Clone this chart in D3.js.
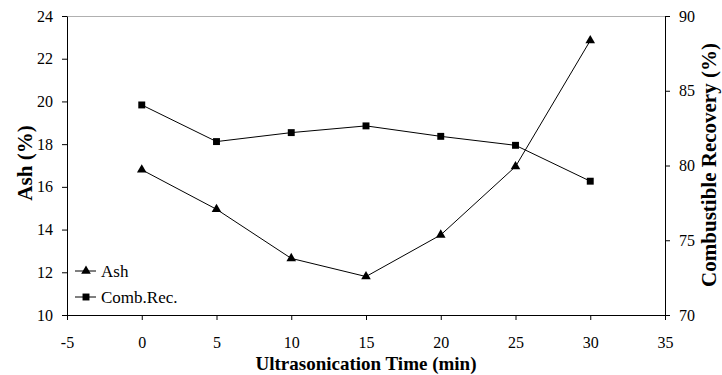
<!DOCTYPE html>
<html>
<head>
<meta charset="utf-8">
<script src="https://cdn.jsdelivr.net/npm/d3@7"></script>
<style>
  body { margin: 0; background: #fff; }
  svg { display: block; font-family: "Liberation Serif", "Times New Roman", serif; }
</style>
</head>
<body>
<svg></svg>
<script>
// chart data
var times = [0, 5, 10, 15, 20, 25, 30];
var ash = [16.8, 14.95, 12.65, 11.8, 13.75, 16.95, 22.85];
var combRec = [84.05, 81.6, 82.2, 82.65, 81.95, 81.35, 78.95];
var xTicks = [-5, 0, 5, 10, 15, 20, 25, 30, 35];
var leftTicks = [10, 12, 14, 16, 18, 20, 22, 24];
var rightTicks = [70, 75, 80, 85, 90];

var svgWidth = 722, svgHeight = 375;
var svg = d3.select("svg")
    .attr("width", svgWidth)
    .attr("height", svgHeight);

var plotLeft = 67, plotRight = 665, plotTop = 16, plotBottom = 315;

var xScale = d3.scaleLinear().domain([-5, 35]).range([plotLeft, plotRight]);
var yLeft = d3.scaleLinear().domain([10, 24]).range([plotBottom, plotTop]);
var yRight = d3.scaleLinear().domain([70, 90]).range([plotBottom, plotTop]);

// top border (grey)
svg.append("line")
    .attr("x1", plotLeft).attr("x2", plotRight)
    .attr("y1", plotTop + 0.5).attr("y2", plotTop + 0.5)
    .attr("stroke", "#b0b0b0").attr("stroke-width", 1);

function styleAxis(g) {
    g.attr("font-family", null).attr("font-size", null);
    g.select(".domain").attr("stroke", "#000");
    g.selectAll(".tick line").attr("stroke", "#000");
    g.selectAll(".tick text")
        .attr("fill", "#000")
        .style("font-family", "Liberation Serif, serif")
        .style("font-size", "16px");
}

var fmt = function(d) { return String(d); };

var xAxis = d3.axisBottom(xScale).tickValues(xTicks).tickFormat(fmt)
    .tickSize(5).tickSizeOuter(0).tickPadding(17);
svg.append("g")
    .attr("transform", "translate(0," + plotBottom + ")")
    .call(xAxis)
    .call(styleAxis);

var leftAxis = d3.axisLeft(yLeft).tickValues(leftTicks).tickFormat(fmt)
    .tickSize(5).tickSizeOuter(0).tickPadding(9);
svg.append("g")
    .attr("transform", "translate(" + plotLeft + ",0)")
    .call(leftAxis)
    .call(styleAxis);

var rightAxis = d3.axisRight(yRight).tickValues(rightTicks).tickFormat(fmt)
    .tickSize(5).tickSizeOuter(0).tickPadding(9);
svg.append("g")
    .attr("transform", "translate(" + plotRight + ",0)")
    .call(rightAxis)
    .call(styleAxis);

// axis titles
svg.append("text")
    .attr("x", (plotLeft + plotRight) / 2).attr("y", 370)
    .attr("text-anchor", "middle")
    .style("font-size", "19px").style("font-weight", "bold")
    .text("Ultrasonication Time (min)");

svg.append("text")
    .attr("transform", "translate(32,163) rotate(-90)")
    .attr("text-anchor", "middle")
    .style("font-size", "21px").style("font-weight", "bold")
    .text("Ash (%)");

svg.append("text")
    .attr("transform", "translate(716,165) rotate(-90)")
    .attr("text-anchor", "middle")
    .style("font-size", "21px").style("font-weight", "bold")
    .text("Combustible Recovery (%)");

// lines
var ashLine = d3.line()
    .x(function(d, i) { return xScale(times[i]); })
    .y(function(d) { return yLeft(d); });
var recLine = d3.line()
    .x(function(d, i) { return xScale(times[i]); })
    .y(function(d) { return yRight(d); });

svg.append("path").datum(ash)
    .attr("d", ashLine)
    .attr("fill", "none").attr("stroke", "#000").attr("stroke-width", 1);
svg.append("path").datum(combRec)
    .attr("d", recLine)
    .attr("fill", "none").attr("stroke", "#000").attr("stroke-width", 1);

var tri = d3.symbol().type(d3.symbolTriangle).size(40);
var sq = d3.symbol().type(d3.symbolSquare).size(48);

svg.selectAll(".ashpt").data(ash).enter().append("path")
    .attr("class", "ashpt")
    .attr("d", tri)
    .attr("transform", function(d, i) { return "translate(" + xScale(times[i]) + "," + yLeft(d) + ")"; })
    .attr("fill", "#000");

svg.selectAll(".recpt").data(combRec).enter().append("path")
    .attr("class", "recpt")
    .attr("d", sq)
    .attr("transform", function(d, i) { return "translate(" + xScale(times[i]) + "," + yRight(d) + ")"; })
    .attr("fill", "#000");

// legend
var legend = [
    { name: "Ash", sym: tri, y: 271 },
    { name: "Comb.Rec.", sym: sq, y: 297 }
];
legend.forEach(function(l) {
    svg.append("line")
        .attr("x1", 75).attr("x2", 96)
        .attr("y1", l.y).attr("y2", l.y)
        .attr("stroke", "#000").attr("stroke-width", 1);
    svg.append("path")
        .attr("d", l.sym)
        .attr("transform", "translate(86," + l.y + ")")
        .attr("fill", "#000");
    svg.append("text")
        .attr("x", 101).attr("y", l.y + 6)
        .style("font-size", "17px")
        .text(l.name);
});
</script>
</body>
</html>
